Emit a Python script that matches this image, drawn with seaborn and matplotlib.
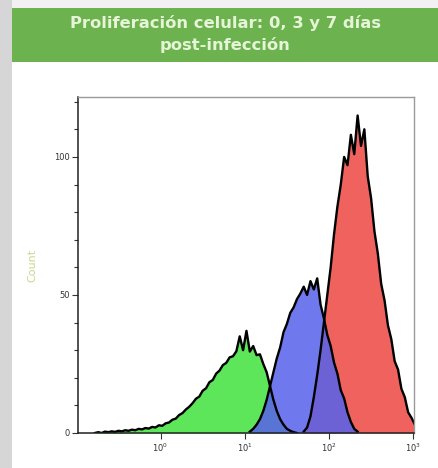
import numpy as np
import pandas as pd
import matplotlib
matplotlib.use("Agg")
import matplotlib.pyplot as plt
import seaborn as sns
from matplotlib.patches import Rectangle

# ---- data (log10 bin centres start, bin width 0.04 decades) ----
title_lines = ["Proliferación celular: 0, 3 y 7 días", "post-infección"]
y_label = "Count"
x_tick_labels = ["$10^0$", "$10^1$", "$10^2$", "$10^3$"]
x_tick_values = [1, 10, 100, 1000]
y_tick_values = [0, 50, 100]
bin_width = 0.04

green_start = -0.78
green_counts = [0, 0.3, 0, 0.5, 0.3, 0.6, 0.4, 0.8, 0.6, 1.0, 0.8, 1.2, 1.0, 1.5,
                1.3, 1.8, 1.6, 2.2, 2.0, 2.8, 2.6, 3.5, 3.8, 4.8, 5.2, 6.5, 7.2, 8.5,
                9.5, 10.8, 12.4, 13.2, 15.3, 16.2, 18.4, 19.2, 21.5, 22.6, 24.6, 25.4,
                27.4, 27.8, 29.6, 35, 30, 37, 29.5, 31.5, 28.2, 28.5, 25, 22, 17, 12,
                8, 5, 3, 1.5, 0.8, 0.3, 0]

blue_start = 1.06
blue_counts = [0.5, 1.5, 3, 5, 8, 12, 17, 22, 27, 31, 36.5, 39.5, 43.5, 45.5, 48.5,
               50.5, 53, 50, 55, 52, 56, 46.5, 41.5, 35.5, 31.5, 25.5, 21.5, 15.5,
               12.5, 7.5, 4, 1.5, 0.5]

red_start = 1.70
red_counts = [0.5, 2, 6, 13, 21, 30, 40, 50, 60, 72, 82, 90, 100, 97, 108, 101,
              115, 104, 110, 93, 85, 73, 65, 54, 48, 39, 34, 26, 23, 16, 13, 7.5, 5.5, 3]

series = [
    ("green", green_start, green_counts, "#5de65a", 1.0),
    ("red", red_start, red_counts, "#f0625e", 1.0),
    ("blue", blue_start, blue_counts, "#5862ea", 0.86),
]

# ---- figure ----
fig = plt.figure(figsize=(4.38, 4.68), dpi=100)
fig.patch.set_facecolor("white")
W, H = 438, 468
fig.patches.append(Rectangle((0, 0), 1, 1, transform=fig.transFigure,
                             facecolor="#f2f0f2", edgecolor="none", zorder=-3))
fig.patches.append(Rectangle((12 / W, 0), 1, (H - 62) / H, transform=fig.transFigure,
                             facecolor="white", edgecolor="none", zorder=-2))
fig.patches.append(Rectangle((0, 0), 12 / W, 1, transform=fig.transFigure,
                             facecolor="#d6d6d6", edgecolor="none", zorder=-2))
fig.patches.append(Rectangle((12 / W, (H - 62) / H), 1, 54 / H, transform=fig.transFigure,
                             facecolor="#6cb24e", edgecolor="none", zorder=-1))
fig.text(225 / W, 1 - 23 / H, title_lines[0], ha="center", va="center",
         color="#e6f4d8", fontsize=11.8, fontweight="bold", family="DejaVu Sans")
fig.text(225 / W, 1 - 45 / H, title_lines[1], ha="center", va="center",
         color="#e6f4d8", fontsize=11.8, fontweight="bold", family="DejaVu Sans")

ax = fig.add_axes([78 / W, 35 / H, 336 / W, 336 / H])
ax.set_facecolor("white")

for name, start, counts, color, alpha in series:
    centers = start + bin_width * np.arange(len(counts))
    df = pd.DataFrame({"x": 10 ** centers, "w": counts})
    lo = start - bin_width / 2
    hi = start + bin_width * (len(counts) - 0.5)
    sns.histplot(data=df, x="x", weights="w", binwidth=bin_width, binrange=(lo, hi),
                 log_scale=True, element="poly", fill=True, color=color,
                 alpha=alpha, linewidth=0, ax=ax)
    sns.histplot(data=df, x="x", weights="w", binwidth=bin_width, binrange=(lo, hi),
                 log_scale=True, element="poly", fill=False, color="black",
                 linewidth=1.7, ax=ax)

ax.set_xscale("log")
ax.set_xlim(10 ** -0.98, 10 ** 3.01)
ax.set_ylim(0, 121.7)
ax.set_xticks(x_tick_values)
ax.set_xticklabels(x_tick_labels)
ax.xaxis.set_minor_locator(matplotlib.ticker.NullLocator())
ax.set_yticks(y_tick_values)
ax.set_yticks(np.arange(0, 121, 10), minor=True)
ax.tick_params(axis="both", which="major", labelsize=6, colors="#333333",
               length=4, width=0.8, direction="out", pad=2)
ax.tick_params(axis="y", which="minor", length=3, width=0.8, color="#333333")
ax.set_xlabel("")
ax.set_ylabel(y_label, color="#c9d890", fontsize=8, labelpad=12)
for side in ["left", "bottom"]:
    ax.spines[side].set_color("#222222")
    ax.spines[side].set_linewidth(1.1)
for side in ["top", "right"]:
    ax.spines[side].set_color("#9a9a9a")
    ax.spines[side].set_linewidth(1.0)

fig.savefig("out.png", dpi=100)
